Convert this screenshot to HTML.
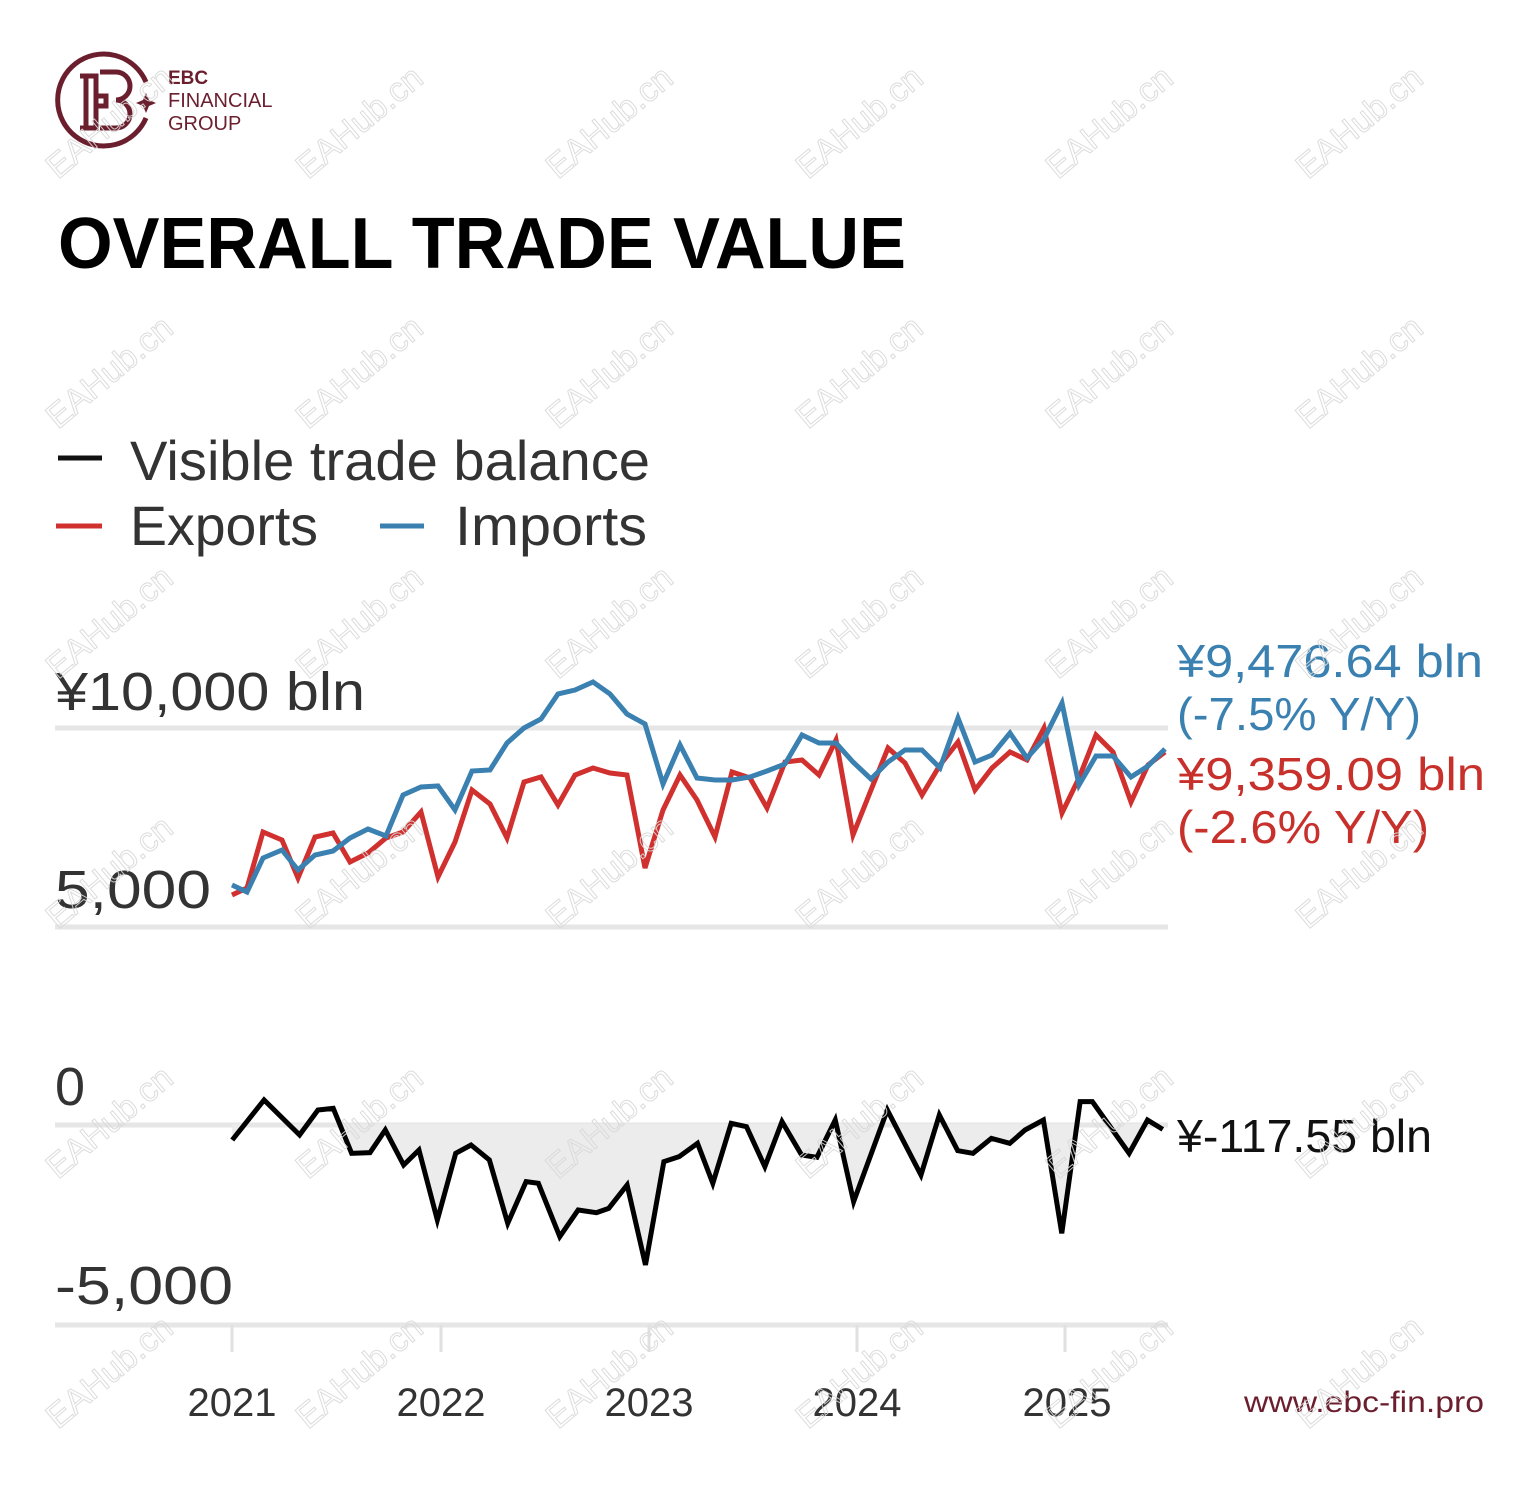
<!DOCTYPE html>
<html><head><meta charset="utf-8"><style>
html,body{margin:0;padding:0;background:#fff;}
svg{display:block;}
text{font-family:"Liberation Sans",sans-serif;}
</style></head><body>
<svg width="1539" height="1492" viewBox="0 0 1539 1492" xmlns="http://www.w3.org/2000/svg">
<rect width="1539" height="1492" fill="#fff"/>
<!-- logo -->
<g fill="none" stroke="#6b1f2e" stroke-width="5">
<path d="M146 82 A46 46 0 1 0 146 118"/>
<path d="M80 76 H96 V128 H80 M86 76 V128 M96 96 H106 V106 H96 M100 72 H116 A14 14 0 0 1 116 100 A14 14 0 0 1 116 128 H100"/>
</g>
<path d="M146 93 l3 7 l7 3 l-7 3 l-3 7 l-3 -7 l-7 -3 l7 -3z" fill="#6b1f2e"/>
<text x="168" y="84" font-size="19" font-weight="bold" fill="#6b1f2e">EBC</text>
<text x="168" y="107" font-size="20" fill="#6b1f2e">FINANCIAL</text>
<text x="168" y="130" font-size="20" fill="#6b1f2e">GROUP</text>
<!-- title -->
<text x="58" y="268" font-size="72" font-weight="bold" fill="#000" textLength="848" lengthAdjust="spacingAndGlyphs">OVERALL TRADE VALUE</text>
<!-- legend -->
<line x1="58" y1="458" x2="102" y2="458" stroke="#111" stroke-width="5"/>
<text x="130" y="480" font-size="56" fill="#333" textLength="520" lengthAdjust="spacingAndGlyphs">Visible trade balance</text>
<line x1="56" y1="526" x2="102" y2="526" stroke="#d0302e" stroke-width="5"/>
<text x="130" y="545" font-size="56" fill="#333" textLength="188" lengthAdjust="spacingAndGlyphs">Exports</text>
<line x1="380" y1="526" x2="424" y2="526" stroke="#3a80b0" stroke-width="5"/>
<text x="455" y="545" font-size="56" fill="#333" textLength="192" lengthAdjust="spacingAndGlyphs">Imports</text>
<!-- gridlines -->
<g stroke="#e6e6e6" stroke-width="5">
<line x1="55" y1="728" x2="1168" y2="728"/>
<line x1="55" y1="927" x2="1168" y2="927"/>
<line x1="55" y1="1125" x2="1168" y2="1125"/>
<line x1="55" y1="1325" x2="1168" y2="1325"/>
</g>
<g stroke="#e0e0e0" stroke-width="3">
<line x1="232" y1="1325" x2="232" y2="1352"/>
<line x1="441" y1="1325" x2="441" y2="1352"/>
<line x1="649" y1="1325" x2="649" y2="1352"/>
<line x1="857" y1="1325" x2="857" y2="1352"/>
<line x1="1065" y1="1325" x2="1065" y2="1352"/>
</g>
<!-- axis labels -->
<g fill="#333" font-size="54">
<text x="55" y="710" textLength="310" lengthAdjust="spacingAndGlyphs">¥10,000 bln</text>
<text x="55" y="908" textLength="156" lengthAdjust="spacingAndGlyphs">5,000</text>
<text x="55" y="1105">0</text>
<text x="55" y="1304" textLength="178" lengthAdjust="spacingAndGlyphs">-5,000</text>
</g>
<g fill="#333" font-size="40" text-anchor="middle">
<text x="232" y="1416">2021</text><text x="441" y="1416">2022</text><text x="649" y="1416">2023</text><text x="857" y="1416">2024</text><text x="1067" y="1416">2025</text>
</g>
<text x="1244" y="1412" font-size="30" fill="#6b1f2e" textLength="240" lengthAdjust="spacingAndGlyphs">www.ebc-fin.pro</text>
<!-- balance -->
<defs><clipPath id="neg"><rect x="0" y="132" width="2000" height="600"/></clipPath></defs>
<g transform="translate(220,1080) scale(0.6122,0.33333)">
<polygon clip-path="url(#neg)" fill="#ececec" points="20,132 20,180 72,60 130,165 160,90 185,85 215,220 245,218 270,150 300,255 325,210 355,420 385,220 410,195 440,240 470,430 500,305 520,310 555,470 585,390 615,398 635,385 665,315 695,555 725,245 750,230 780,190 805,310 835,130 860,140 890,260 918,125 950,225 975,232 1005,120 1035,365 1090,90 1145,285 1175,105 1205,212 1230,220 1260,175 1290,190 1315,150 1345,120 1375,460 1405,65 1425,65 1485,220 1515,120 1540,148 1540,132"/>
<polyline fill="none" stroke="#000" stroke-width="5" vector-effect="non-scaling-stroke" points="20,180 72,60 130,165 160,90 185,85 215,220 245,218 270,150 300,255 325,210 355,420 385,220 410,195 440,240 470,430 500,305 520,310 555,470 585,390 615,398 635,385 665,315 695,555 725,245 750,230 780,190 805,310 835,130 860,140 890,260 918,125 950,225 975,232 1005,120 1035,365 1090,90 1145,285 1175,105 1205,212 1230,220 1260,175 1290,190 1315,150 1345,120 1375,460 1405,65 1425,65 1485,220 1515,120 1540,148"/>
</g>
<!-- exports -->
<polyline fill="none" stroke="#d0302e" stroke-width="5" points="232,895 247,888 263,832 282,840 298,878 315,837 333,833 350,862 368,853 386,838 403,832 421,812 438,877 455,842 472,790 490,804 507,838 524,782 541,777 558,805 575,775 593,768 610,773 627,775 645,868 663,810 680,775 697,800 715,837 732,772 750,778 767,808 785,762 802,760 819,775 836,740 853,835 871,790 888,748 905,763 922,795 940,765 958,742 975,790 992,768 1010,752 1027,760 1044,728 1062,813 1079,778 1096,735 1113,752 1131,802 1148,765 1165,752"/>
<!-- imports -->
<polyline fill="none" stroke="#3a80b0" stroke-width="5" points="232,885 247,892 263,858 282,850 298,870 315,855 333,851 350,838 368,829 386,836 403,795 421,787 438,786 455,810 472,771 490,770 507,743 524,728 541,719 558,694 575,690 593,682 610,694 627,714 645,724 663,784 680,745 697,778 715,780 732,780 750,777 767,771 785,764 802,735 819,743 836,743 853,762 871,779 888,762 905,750 922,750 940,768 958,718 975,762 992,755 1010,733 1027,758 1044,739 1062,703 1079,785 1096,756 1113,756 1131,777 1148,766 1165,749"/>
<!-- end labels -->
<g font-size="46">
<text x="1177" y="677" fill="#3a80b0" textLength="306" lengthAdjust="spacingAndGlyphs">¥9,476.64 bln</text>
<text x="1177" y="730" fill="#3a80b0" textLength="244" lengthAdjust="spacingAndGlyphs">(-7.5% Y/Y)</text>
<text x="1177" y="790" fill="#c8302c" textLength="308" lengthAdjust="spacingAndGlyphs">¥9,359.09 bln</text>
<text x="1177" y="843" fill="#c8302c" textLength="252" lengthAdjust="spacingAndGlyphs">(-2.6% Y/Y)</text>
<text x="1177" y="1152" fill="#111" textLength="255" lengthAdjust="spacingAndGlyphs">¥-117.55 bln</text>
</g>
<!-- watermarks -->
<g fill="none" stroke="#d8d8d8" stroke-width="1" font-size="34" opacity="0.9">
<text transform="translate(58,180) rotate(-40)">EAHub.cn</text><text transform="translate(308,180) rotate(-40)">EAHub.cn</text><text transform="translate(558,180) rotate(-40)">EAHub.cn</text><text transform="translate(808,180) rotate(-40)">EAHub.cn</text><text transform="translate(1058,180) rotate(-40)">EAHub.cn</text><text transform="translate(1308,180) rotate(-40)">EAHub.cn</text>
<text transform="translate(58,430) rotate(-40)">EAHub.cn</text><text transform="translate(308,430) rotate(-40)">EAHub.cn</text><text transform="translate(558,430) rotate(-40)">EAHub.cn</text><text transform="translate(808,430) rotate(-40)">EAHub.cn</text><text transform="translate(1058,430) rotate(-40)">EAHub.cn</text><text transform="translate(1308,430) rotate(-40)">EAHub.cn</text>
<text transform="translate(58,680) rotate(-40)">EAHub.cn</text><text transform="translate(308,680) rotate(-40)">EAHub.cn</text><text transform="translate(558,680) rotate(-40)">EAHub.cn</text><text transform="translate(808,680) rotate(-40)">EAHub.cn</text><text transform="translate(1058,680) rotate(-40)">EAHub.cn</text><text transform="translate(1308,680) rotate(-40)">EAHub.cn</text>
<text transform="translate(58,930) rotate(-40)">EAHub.cn</text><text transform="translate(308,930) rotate(-40)">EAHub.cn</text><text transform="translate(558,930) rotate(-40)">EAHub.cn</text><text transform="translate(808,930) rotate(-40)">EAHub.cn</text><text transform="translate(1058,930) rotate(-40)">EAHub.cn</text><text transform="translate(1308,930) rotate(-40)">EAHub.cn</text>
<text transform="translate(58,1180) rotate(-40)">EAHub.cn</text><text transform="translate(308,1180) rotate(-40)">EAHub.cn</text><text transform="translate(558,1180) rotate(-40)">EAHub.cn</text><text transform="translate(808,1180) rotate(-40)">EAHub.cn</text><text transform="translate(1058,1180) rotate(-40)">EAHub.cn</text><text transform="translate(1308,1180) rotate(-40)">EAHub.cn</text>
<text transform="translate(58,1430) rotate(-40)">EAHub.cn</text><text transform="translate(308,1430) rotate(-40)">EAHub.cn</text><text transform="translate(558,1430) rotate(-40)">EAHub.cn</text><text transform="translate(808,1430) rotate(-40)">EAHub.cn</text><text transform="translate(1058,1430) rotate(-40)">EAHub.cn</text><text transform="translate(1308,1430) rotate(-40)">EAHub.cn</text>
</g>
</svg>
</body></html>
